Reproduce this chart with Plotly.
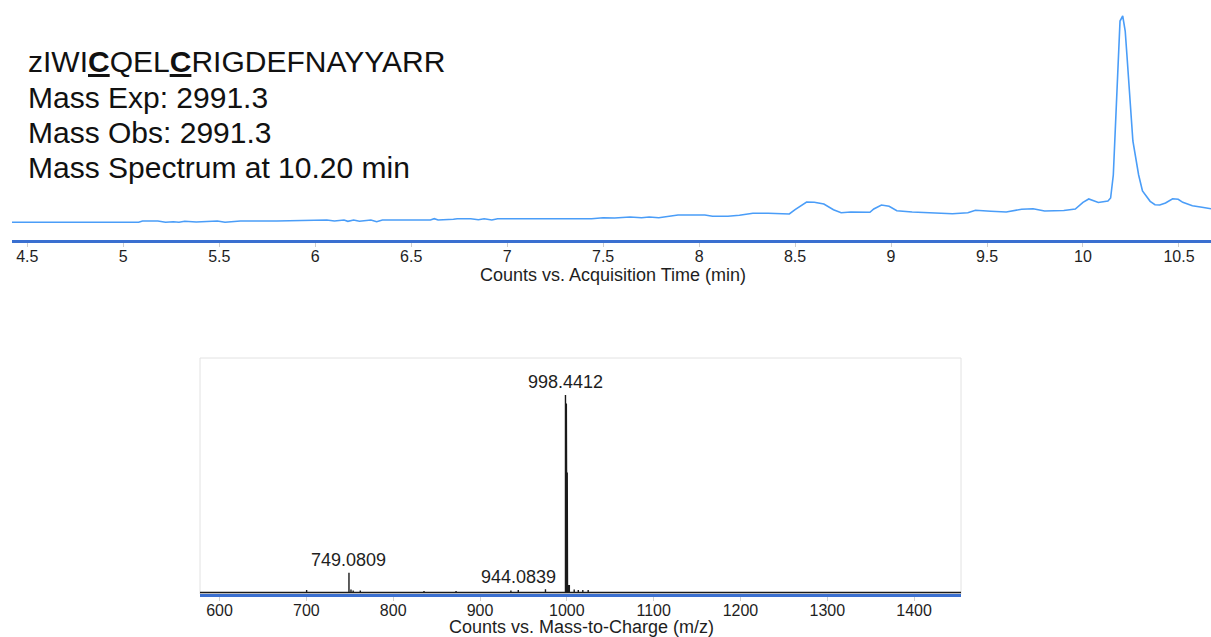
import plotly.graph_objects as go

W, H = 1211, 637

# ---------------- data ----------------
# Chromatogram (TIC) : acquisition time (min) vs relative counts
rt_min = [4.42, 5.08, 5.10, 5.18, 5.22, 5.26, 5.29, 5.32, 5.38, 5.43, 5.49, 5.53, 5.57, 5.61,
          5.80, 5.96, 6.00, 6.06, 6.10, 6.15, 6.17, 6.20, 6.23, 6.29, 6.32, 6.35, 6.41, 6.60,
          6.62, 6.64, 6.72, 6.74, 6.81, 6.85, 6.88, 6.92, 6.95, 7.44, 7.50, 7.56, 7.64, 7.70,
          7.74, 7.79, 7.89, 8.03, 8.07, 8.15, 8.21, 8.28, 8.36, 8.47, 8.50, 8.56, 8.60, 8.65,
          8.70, 8.74, 8.79, 8.89, 8.91, 8.95, 8.99, 9.03, 9.11, 9.21, 9.28, 9.32, 9.40, 9.44,
          9.52, 9.60, 9.68, 9.74, 9.80, 9.90, 9.96, 10.00, 10.03, 10.08, 10.13, 10.144, 10.158,
          10.18, 10.193, 10.207, 10.22, 10.23, 10.26, 10.29, 10.31, 10.35, 10.375, 10.40, 10.43,
          10.467, 10.496, 10.52, 10.57, 10.62, 10.667]
tic_counts = [17.7, 17.7, 19.0, 19.0, 17.7, 18.3, 17.7, 18.7, 18.0, 18.7, 19.0, 17.7, 18.0, 19.0,
              19.0, 19.7, 20.3, 20.0, 19.0, 20.0, 18.7, 20.0, 18.7, 20.0, 18.3, 20.0, 20.0, 20.0,
              21.3, 20.0, 20.7, 21.3, 21.3, 20.3, 21.3, 20.0, 21.3, 21.3, 22.3, 22.0, 23.0, 22.3,
              23.0, 22.3, 25.0, 25.0, 23.7, 23.7, 24.7, 26.7, 26.7, 26.0, 30.3, 38.0, 37.7, 36.0,
              30.3, 27.3, 28.0, 27.7, 31.0, 35.0, 33.7, 29.3, 28.0, 27.0, 27.0, 26.3, 27.3, 29.7,
              28.7, 28.0, 30.7, 31.3, 29.0, 29.5, 31.0, 37.7, 41.0, 37.5, 39.0, 42.0, 65.0,
              172.0, 219.0, 224.0, 209.0, 182.0, 99.0, 65.0, 49.0, 38.7, 35.3, 35.0, 37.0,
              41.3, 40.7, 37.7, 34.3, 32.7, 31.3]

# Mass spectrum at 10.20 min : m/z vs counts (centroid sticks)
mz_values = [700.3, 749.08, 751.4, 753.9, 762.1, 835.5, 872.4, 935.6, 944.08, 975.4,
             998.44, 998.78, 999.11, 999.45, 999.78, 1000.11, 1000.45, 1000.8, 1001.8, 1002.9,
             1008.5, 1013.2, 1018.4, 1024.6]
mz_counts = [2.5, 19.8, 3.0, 2.0, 2.0, 1.5, 1.5, 2.0, 2.5, 3.2,
             197.5, 189.5, 189.5, 189.0, 189.0, 186.0, 120.0, 40.0, 7.5, 7.5,
             3.0, 2.5, 2.5, 2.5]
labelled_mz = [749.0809, 944.0839, 998.4412]
labelled_counts = [19.8, 2.5, 197.5]

info_lines = ["zIWI<b><u>C</u></b>QEL<b><u>C</u></b>RIGDEFNAYYARR",
              "Mass Exp: 2991.3",
              "Mass Obs: 2991.3",
              "Mass Spectrum at 10.20 min"]

rt_ticks = [4.5, 5, 5.5, 6, 6.5, 7, 7.5, 8, 8.5, 9, 9.5, 10, 10.5]
rt_tick_text = ["4.5", "5", "5.5", "6", "6.5", "7", "7.5", "8", "8.5", "9", "9.5", "10", "10.5"]
mz_ticks = [600, 700, 800, 900, 1000, 1100, 1200, 1300, 1400]
rt_range = [4.42, 10.667]
mz_range = [577.5, 1454]

# ---------------- helpers ----------------
def px_x(p):
    return p / W

def px_y(p):
    return 1 - p / H

FONT = "Liberation Sans, Arial, Helvetica, sans-serif"
TXT = "#1e1e1e"

# stick spectrum built from the peak list
stick_x, stick_y = [mz_range[0]], [0]
for m, c in zip(mz_values, mz_counts):
    stick_x += [m, m, m]
    stick_y += [0, c, 0]
stick_x.append(mz_range[1])
stick_y.append(0)

fig = go.Figure()
fig.add_trace(go.Scatter(x=rt_min, y=tic_counts, mode="lines",
                         line=dict(color="#4a9df8", width=1.6),
                         xaxis="x", yaxis="y", showlegend=False, hoverinfo="x+y"))
fig.add_trace(go.Scatter(x=stick_x, y=stick_y, mode="lines",
                         line=dict(color="#1a1a1a", width=1.4),
                         xaxis="x2", yaxis="y2", showlegend=False, hoverinfo="x+y"))

annotations = []
# information text
for i, (line, cy) in enumerate(zip(info_lines, [62, 97, 132.5, 167.5])):
    annotations.append(dict(text=line, xref="paper", yref="paper", x=px_x(26), y=px_y(cy),
                            xanchor="left", yanchor="middle", showarrow=False,
                            font=dict(family=FONT, size=30, color="#111")))
# peak labels
for m, c in zip(labelled_mz, labelled_counts):
    annotations.append(dict(text=f"{m:.4f}", xref="x2", yref="y2", x=m, y=c,
                            xanchor="center", yanchor="bottom", showarrow=False, yshift=1,
                            font=dict(family=FONT, size=18, color=TXT)))
# axis titles
annotations.append(dict(text="Counts vs. Acquisition Time (min)", xref="paper", yref="paper",
                        x=px_x(613), y=px_y(274.5), xanchor="center", yanchor="middle",
                        showarrow=False, font=dict(family=FONT, size=18, color=TXT)))
annotations.append(dict(text="Counts vs. Mass-to-Charge (m/z)", xref="paper", yref="paper",
                        x=px_x(581), y=px_y(627), xanchor="center", yanchor="middle",
                        showarrow=False, font=dict(family=FONT, size=18, color=TXT)))

axis_common = dict(showgrid=False, zeroline=False, ticks="outside", ticklen=4, tickwidth=1,
                   tickcolor="#cfcfcf", showline=True, linecolor="#3a6fd0", linewidth=2.5,
                   tickfont=dict(family=FONT, size=16, color=TXT), ticklabelstandoff=-4)

fig.update_layout(
    width=W, height=H, autosize=False,
    margin=dict(l=0, r=0, t=0, b=0),
    paper_bgcolor="white", plot_bgcolor="white",
    showlegend=False,
    xaxis=dict(domain=[px_x(12), 1.0], range=rt_range, tickmode="array",
               tickvals=rt_ticks, ticktext=rt_tick_text, anchor="y", **axis_common),
    yaxis=dict(domain=[px_y(240), px_y(10)], range=[0, 230], visible=False, anchor="x"),
    xaxis2=dict(domain=[px_x(200), px_x(961)], range=mz_range, tickmode="array",
                tickvals=mz_ticks, anchor="y2", **axis_common),
    yaxis2=dict(domain=[px_y(594), px_y(358)], range=[-1.5, 234.5], visible=False,
                anchor="x2"),
    annotations=annotations,
    shapes=[dict(type="rect", xref="x2 domain", yref="y2 domain", x0=0, x1=1, y0=0, y1=1,
                 line=dict(color="#e2e2e2", width=1), layer="below")],
)

fig.write_html("out.html")
